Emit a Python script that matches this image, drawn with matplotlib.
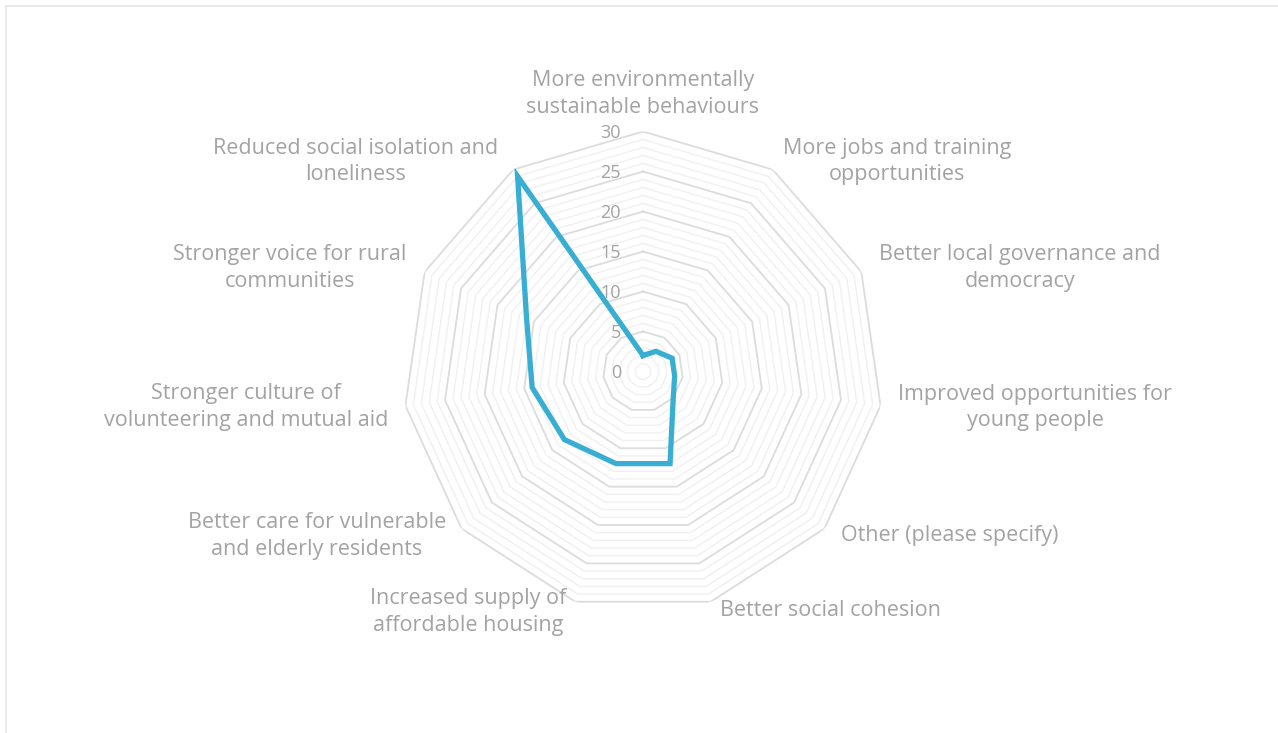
import numpy as np
import matplotlib as mpl
mpl.use('Agg')
import matplotlib.pyplot as plt
from matplotlib.patches import Rectangle

categories = ["More environmentally\nsustainable behaviours",
              "More jobs and training\nopportunities",
              "Better local governance and\ndemocracy",
              "Improved opportunities for\nyoung people",
              "Other (please specify)",
              "Better social cohesion",
              "Increased supply of\naffordable housing",
              "Better care for vulnerable\nand elderly residents",
              "Stronger culture of\nvolunteering and mutual aid",
              "Stronger voice for rural\ncommunities",
              "Reduced social isolation and\nloneliness"]
values = [2, 3, 4, 4, 5, 12, 12, 13, 14, 16, 29]
ticks = [0, 5, 10, 15, 20, 25, 30]

# label offsets from the chart centre, in pixels
label_dx = [0, 254, 377, 392, 307, 187, -175, -326, -397, -353, -287]
label_dy = [277.5, 210, 103.5, -36, -164.5, -239.5, -240.5, -164.5, -35.5, 103.5, 210]

txt_color = '#a3a3a3'
line_color = '#38aed2'
plt.rcParams['font.family'] = ['Open Sans', 'DejaVu Sans']

W, H = 1278, 733
fig = plt.figure(figsize=(W / 100, H / 100), dpi=100)
fig.patches.append(Rectangle((5.5 / W, -0.1), 1.2, 1 - 5.5 / H + 0.1, transform=fig.transFigure,
                             fill=False, edgecolor='#e6e6e6', linewidth=1.2))

cx, cy, R = 643, 371.5, 240
ax = fig.add_axes([(cx - R) / W, (H - cy - R) / H, 2 * R / W, 2 * R / H], projection='polar')
ax.set_theta_zero_location('N')
ax.set_theta_direction(-1)
ax.set_ylim(0, 30)
ax.axis('off')

n = len(categories)
angles = np.linspace(0, 2 * np.pi, n, endpoint=False)
closed = np.append(angles, angles[0])

# ring gridlines: light every unit, darker every 5
for r in range(1, 31):
    if r % 5 == 0:
        ax.plot(closed, [r] * (n + 1), color='#dcdcdc', lw=1.3, zorder=2)
    else:
        ax.plot(closed, [r] * (n + 1), color='#f0f0f0', lw=1.0, zorder=1)

ax.plot(closed, values + values[:1], color=line_color, lw=3.8, solid_joinstyle='miter', zorder=5)

for t in ticks:
    ax.annotate(str(t), xy=(0, t), xytext=(-22, -1), textcoords='offset pixels',
                ha='right', va='center', fontsize=13, color=txt_color, zorder=6)

for lab, dx, dy in zip(categories, label_dx, label_dy):
    ax.annotate(lab, xy=(0, 0), xytext=(dx, dy), textcoords='offset pixels',
                ha='center', va='center', fontsize=15.5, color=txt_color,
                linespacing=1.36, annotation_clip=False)

fig.savefig('out.png', dpi=100)
